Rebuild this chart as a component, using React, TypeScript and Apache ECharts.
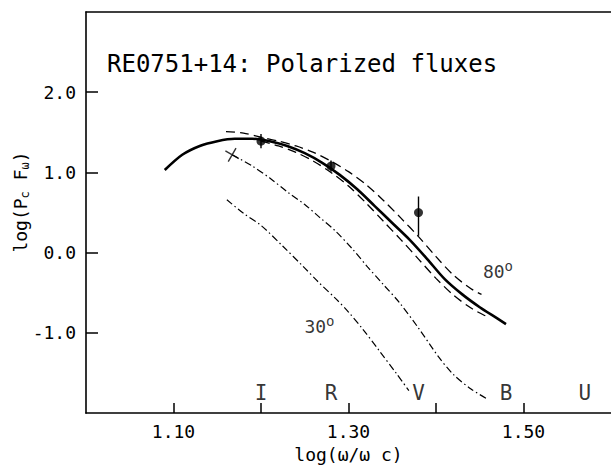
import React, { useEffect, useRef } from "react";
import * as echarts from "echarts";

// Thick solid model curve
const solidX = [1.09, 1.11, 1.13, 1.15, 1.17, 1.19, 1.21, 1.23, 1.25, 1.27, 1.29, 1.31, 1.33, 1.35, 1.37, 1.39, 1.41, 1.43, 1.45, 1.47, 1.48];
const solidY = [1.03, 1.22, 1.33, 1.39, 1.42, 1.42, 1.39, 1.33, 1.24, 1.12, 0.97, 0.79, 0.58, 0.37, 0.16, -0.08, -0.33, -0.52, -0.68, -0.82, -0.89];

// Upper dashed curve
const upperX = [1.16, 1.18, 1.2, 1.22, 1.24, 1.26, 1.28, 1.3, 1.32, 1.34, 1.36, 1.38, 1.4, 1.42, 1.44, 1.452];
const upperY = [1.51, 1.49, 1.44, 1.39, 1.33, 1.25, 1.14, 1.01, 0.85, 0.65, 0.43, 0.2, -0.05, -0.28, -0.45, -0.52];

// Lower dashed curve
const lowerX = [1.2, 1.22, 1.24, 1.26, 1.28, 1.3, 1.32, 1.34, 1.36, 1.38, 1.4, 1.42, 1.44, 1.455, 1.462];
const lowerY = [1.39, 1.33, 1.25, 1.14, 1.0, 0.83, 0.62, 0.39, 0.16, -0.08, -0.32, -0.53, -0.69, -0.78, -0.8];

// Dash-dot curve starting at the cross
const dotAX = [1.167, 1.19, 1.21, 1.231, 1.25, 1.267, 1.285, 1.305, 1.322, 1.34, 1.358, 1.38, 1.403, 1.42, 1.44, 1.458];
const dotAY = [1.22, 1.08, 0.93, 0.75, 0.6, 0.44, 0.27, 0.04, -0.18, -0.4, -0.62, -0.94, -1.3, -1.52, -1.7, -1.82];

// Dash-dot curve (30 deg)
const dotBX = [1.161, 1.18, 1.2, 1.225, 1.248, 1.265, 1.286, 1.3, 1.316, 1.335, 1.355, 1.369];
const dotBY = [0.66, 0.49, 0.34, 0.08, -0.17, -0.36, -0.58, -0.74, -0.95, -1.22, -1.51, -1.72];

// Observed points with error bars
const obsX = [1.2, 1.28, 1.38];
const obsY = [1.39, 1.08, 0.5];
const obsLo = [1.3, 1.01, 0.21];
const obsHi = [1.48, 1.15, 0.7];

// Cross marker
const crossX = [1.167];
const crossY = [1.22];

// Band labels
const bandNames = ["I", "R", "V", "B", "U"];
const bandX = [1.2, 1.28, 1.38, 1.48, 1.57];
const bandY = -1.75;

// Angle labels
const angleNames = ["30", "80"];
const angleX = [1.249, 1.453];
const angleY = [-0.92, -0.23];

// Axis ticks and labels
const xTickValues = [1.1, 1.2, 1.3, 1.4, 1.5];
const xLabelValues = [1.1, 1.3, 1.5];
const yTickValues = [-1, 0, 1, 2];
const yLabelValues = [-1, 0, 1, 2];

const MONO = '"DejaVu Sans Mono", monospace';

const zip = (a: number[], b: number[]) => a.map((v, i) => [v, b[i]]);

export default function App() {
  const ref = useRef<HTMLDivElement>(null);
  useEffect(() => {
    if (!ref.current) return;
    const chart = echarts.init(ref.current, undefined, { renderer: "svg" });
    const lineBase = { type: "line", showSymbol: false, symbol: "none", smooth: 0.3, silent: true } as any;
    chart.setOption({
      animation: false,
      backgroundColor: "#fff",
      grid: { left: 86, top: 12, width: 528, height: 407 },
      xAxis: [
        {
          type: "value",
          min: 1.0,
          max: 1.6,
          interval: 0.1,
          position: "bottom",
          name: "log(ω/ω c)",
          nameLocation: "middle",
          nameGap: 29,
          nameTextStyle: { fontFamily: MONO, fontSize: 18, color: "#000" },
          axisLine: { show: true, onZero: false, lineStyle: { color: "#000", width: 1.6 } },
          axisTick: {
            show: true,
            inside: true,
            length: 10,
            customValues: xTickValues,
            lineStyle: { color: "#000", width: 1.5 },
          },
          axisLabel: {
            margin: 9,
            fontFamily: MONO,
            fontSize: 18,
            color: "#000",
            customValues: xLabelValues,
            formatter: (v: number) => v.toFixed(2),
          },
          splitLine: { show: false },
        },
        {
          type: "value",
          min: 1.0,
          max: 1.6,
          position: "top",
          axisLine: { show: true, onZero: false, lineStyle: { color: "#000", width: 1.6 } },
          axisTick: { show: false },
          axisLabel: { show: false },
          splitLine: { show: false },
        },
      ],
      yAxis: {
        type: "value",
        min: -2,
        max: 3,
        interval: 1,
        axisLine: { show: true, onZero: false, lineStyle: { color: "#000", width: 1.6 } },
        axisTick: {
          show: true,
          inside: true,
          length: 12,
          customValues: yTickValues,
          lineStyle: { color: "#000", width: 1.5 },
        },
        axisLabel: {
          margin: 10,
          fontFamily: MONO,
          fontSize: 18,
          color: "#000",
          customValues: yLabelValues,
          formatter: (v: number) => (Math.round(v * 10) / 10).toFixed(1),
        },
        splitLine: { show: false },
      },
      graphic: [
        {
          type: "text",
          x: 107,
          y: 64,
          style: {
            text: "RE0751+14: Polarized fluxes",
            font: `24px ${MONO}`,
            fill: "#000",
            verticalAlign: "middle",
            align: "left",
          },
        },
        {
          type: "text",
          x: 20,
          y: 202,
          rotation: Math.PI / 2,
          style: {
            text: "log(P{s|c} F{s|ω})",
            font: `18px ${MONO}`,
            fill: "#000",
            align: "center",
            verticalAlign: "middle",
            rich: {
              s: { fontFamily: MONO, fontSize: 12, padding: [9, 0, 0, 0], fill: "#000" },
            },
          },
        },
      ],
      series: [
        { ...lineBase, data: zip(solidX, solidY), lineStyle: { color: "#000", width: 2.6 } },
        { ...lineBase, data: zip(upperX, upperY), lineStyle: { color: "#000", width: 1.3, type: [9, 5] } },
        { ...lineBase, data: zip(lowerX, lowerY), lineStyle: { color: "#000", width: 1.3, type: [9, 5] } },
        { ...lineBase, data: zip(dotAX, dotAY), lineStyle: { color: "#000", width: 1.2, type: [7, 3, 1.5, 3] } },
        { ...lineBase, data: zip(dotBX, dotBY), lineStyle: { color: "#000", width: 1.2, type: [7, 3, 1.5, 3] } },
        {
          type: "custom",
          silent: true,
          data: obsX.map((x, i) => [x, obsLo[i], obsHi[i]]),
          encode: { x: 0, y: [1, 2] },
          renderItem: (params: any, api: any) => {
            const p1 = api.coord([api.value(0), api.value(1)]);
            const p2 = api.coord([api.value(0), api.value(2)]);
            return {
              type: "line",
              shape: { x1: p1[0], y1: p1[1], x2: p2[0], y2: p2[1] },
              style: { stroke: "#000", lineWidth: 1.4 },
            };
          },
        },
        {
          type: "scatter",
          silent: true,
          symbol: "circle",
          symbolSize: 9,
          data: zip(obsX, obsY),
          itemStyle: { color: "#000" },
        },
        {
          type: "scatter",
          silent: true,
          symbol: "path://M0,0L10,10M10,0L0,10",
          symbolSize: 11,
          symbolRotate: 15,
          data: zip(crossX, crossY),
          itemStyle: { color: "transparent", borderColor: "#000", borderWidth: 1.4 },
        },
        {
          type: "scatter",
          silent: true,
          symbolSize: 1,
          data: bandX.map((x) => [x, bandY]),
          itemStyle: { color: "rgba(0,0,0,0)" },
          label: {
            show: true,
            position: "inside",
            fontFamily: MONO,
            fontSize: 21,
            color: "#000",
            formatter: (p: any) => bandNames[p.dataIndex],
          },
        },
        {
          type: "scatter",
          silent: true,
          symbolSize: 1,
          data: zip(angleX, angleY),
          itemStyle: { color: "rgba(0,0,0,0)" },
          label: {
            show: true,
            position: "right",
            distance: 0,
            fontFamily: MONO,
            fontSize: 18,
            color: "#000",
            formatter: (p: any) => `${angleNames[p.dataIndex]}{o|o}`,
            rich: {
              o: { fontFamily: MONO, fontSize: 14, padding: [0, 0, 10, 0], color: "#000" },
            },
          },
        },
      ],
    });
    return () => chart.dispose();
  }, []);
  return (
    <div
      ref={ref}
      style={{ position: "absolute", left: 0, top: 0, width: 611, height: 468, background: "#fff" }}
    />
  );
}
